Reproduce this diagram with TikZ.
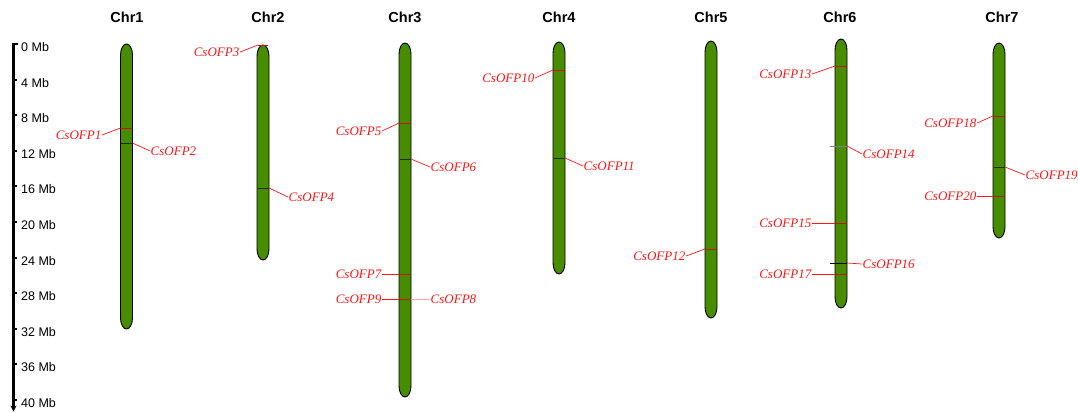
\documentclass[tikz,border=0pt]{standalone}
\usepackage{fontspec}
\setmainfont{Liberation Serif}
\newfontfamily\arialf{Liberation Sans}
\usetikzlibrary{arrows.meta}
\definecolor{chrgreen}{RGB}{72,140,0}
\definecolor{mkdark}{RGB}{30,50,0}
\definecolor{mkred}{RGB}{200,20,0}
\definecolor{lbred}{RGB}{255,20,20}
\definecolor{lbpink}{RGB}{255,170,170}
\tikzset{
  chromline/.style={draw=black, line width=0.9pt, fill=chrgreen},
  title/.style={font=\arialf\bfseries\fontsize{14.5}{16}\selectfont, inner sep=0pt},
  axlab/.style={font=\arialf\fontsize{12.5}{14}\selectfont, anchor=west, inner sep=0pt},
  gene/.style={font=\itshape\fontsize{13}{15}\selectfont, text=lbred, inner sep=0.5pt},
  conn/.style={draw=lbred, line width=0.7pt},
  mkr/.style={draw=mkred, line width=0.8pt},
  mkblk/.style={draw=mkdark, line width=0.8pt},
}
% #1 centre x, #2 top, #3 bottom, #4 name
\newcommand\chrshape[4]{%
  \draw[chromline] ({#1-6},{#2+11}) .. controls ({#1-6},{#2+5}) and ({#1-3.3},{#2}) .. ({#1},{#2})
    .. controls ({#1+3.3},{#2}) and ({#1+6},{#2+5}) .. ({#1+6},{#2+11})
    -- ({#1+6},{#3-11}) .. controls ({#1+6},{#3-5}) and ({#1+3.3},{#3}) .. ({#1},{#3})
    .. controls ({#1-3.3},{#3}) and ({#1-6},{#3-5}) .. ({#1-6},{#3-11}) -- cycle;
  \coordinate (#4) at ({#1},{(#2+#3)/2});}
\begin{document}
\begin{tikzpicture}[x=1pt,y=-1pt]
\useasboundingbox (0,0) rectangle (1078,412);
% axis
\coordinate (ax0) at (13.5,43);
\coordinate (ax1) at (13.5,411.5);
\draw[line width=2.4pt, -{Stealth[length=6pt,width=6pt]}] (ax0) -- (ax1);
\draw[line width=2pt] (12.3,44) -- (17.5,44);
\foreach \m in {4,8,...,40}{
  \draw[line width=2pt] (13.5,{44+8.9*\m}) -- (17,{44+8.9*\m});
}
\foreach \m in {0,4,...,40}{
  \node[axlab] (t\m) at (21,{47+8.9*\m}) {\m\ Mb};
}
% titles
\node[title] (h1) at (127,17) {Chr1};
\node[title] (h2) at (268,17) {Chr2};
\node[title] (h3) at (405,17) {Chr3};
\node[title] (h4) at (559,17) {Chr4};
\node[title] (h5) at (711,17) {Chr5};
\node[title] (h6) at (840,17) {Chr6};
\node[title] (h7) at (1002,17) {Chr7};
% chromosomes
\chrshape{126.5}{44}{329}{c1}
\chrshape{263}{45}{260}{c2}
\chrshape{405}{43}{397}{c3}
\chrshape{559}{42}{274}{c4}
\chrshape{711}{41}{318}{c5}
\chrshape{841}{39}{308}{c6}
\chrshape{999}{43}{238}{c7}
% markers
\draw[mkr] (121,128) -- (132,128);
\draw[mkblk] (121,143) -- (132,143);
\draw[mkr] (258,45.5) -- (268,45.5);
\draw[mkblk] (257.5,188) -- (268.5,188);
\draw[mkr] (399.5,123) -- (410.5,123);
\draw[mkblk] (399.5,159) -- (410.5,159);
\draw[mkr] (399.5,274) -- (410.5,274);
\draw[mkr] (399.5,299) -- (410.5,299);
\draw[mkr] (553.5,70) -- (564.5,70);
\draw[mkblk] (553.5,158) -- (564.5,158);
\draw[mkr] (705.5,249) -- (716.5,249);
\draw[mkr] (835.5,66) -- (846.5,66);
\draw[draw=gray, line width=0.8pt] (830,146) -- (846.5,146);
\draw[mkr] (835.5,223) -- (846.5,223);
\draw[draw=black, line width=0.8pt] (830,263) -- (846.5,263);
\draw[mkr] (835.5,274) -- (846.5,274);
\draw[mkr] (993.5,116) -- (1004.5,116);
\draw[mkblk] (993.5,167) -- (1004.5,167);
\draw[mkr] (993.5,196) -- (1004.5,196);
% gene labels
\node[gene, anchor=east] (g1) at (102,135) {CsOFP1};
\node[gene, anchor=west] (g2) at (150,151) {CsOFP2};
\node[gene, anchor=east] (g3) at (240,52) {CsOFP3};
\node[gene, anchor=west] (g4) at (288,197) {CsOFP4};
\node[gene, anchor=east] (g5) at (382,131) {CsOFP5};
\node[gene, anchor=west] (g6) at (430,167) {CsOFP6};
\node[gene, anchor=east] (g7) at (382,274) {CsOFP7};
\node[gene, anchor=west] (g8) at (430,299) {CsOFP8};
\node[gene, anchor=east] (g9) at (382,299) {CsOFP9};
\node[gene, anchor=east] (g10) at (535,78) {CsOFP10};
\node[gene, anchor=west] (g11) at (583,166) {CsOFP11};
\node[gene, anchor=east] (g12) at (686,256) {CsOFP12};
\node[gene, anchor=east] (g13) at (812,74) {CsOFP13};
\node[gene, anchor=west] (g14) at (862,154) {CsOFP14};
\node[gene, anchor=east] (g15) at (812,223) {CsOFP15};
\node[gene, anchor=west] (g16) at (862,264) {CsOFP16};
\node[gene, anchor=east] (g17) at (812,274) {CsOFP17};
\node[gene, anchor=east] (g18) at (977,123) {CsOFP18};
\node[gene, anchor=west] (g19) at (1025,175) {CsOFP19};
\node[gene, anchor=east] (g20) at (977,196) {CsOFP20};
% connector end points on chromosomes
\coordinate (p1) at (120.5,128);
\coordinate (p2) at (132.5,143);
\coordinate (p3) at (258,45);
\coordinate (p4) at (269,188);
\coordinate (p5) at (399,123);
\coordinate (p6) at (411,159);
\coordinate (p7) at (399,274);
\coordinate (p8) at (411,299);
\coordinate (p9) at (399,299);
\coordinate (p10) at (553,70);
\coordinate (p11) at (565,158);
\coordinate (p12) at (705,249);
\coordinate (p13) at (835,66);
\coordinate (p14) at (847,146);
\coordinate (p15) at (835,223);
\coordinate (p16) at (847,263);
\coordinate (p17) at (835,274);
\coordinate (p18) at (993,116);
\coordinate (p19) at (1005,167);
\coordinate (p20) at (993,196);
% connectors
\draw[conn] (g1.east) -- (p1);
\draw[conn] (g2.west) -- (p2);
\draw[conn] (g3.east) -- (p3);
\draw[conn] (g4.west) -- (p4);
\draw[conn] (g5.east) -- (p5);
\draw[conn] (g6.west) -- (p6);
\draw[conn] (g7.east) -- (p7);
\draw[conn, draw=lbpink] (g8.west) -- (p8);
\draw[conn] (g9.east) -- (p9);
\draw[conn] (g10.east) -- (p10);
\draw[conn] (g11.west) -- (p11);
\draw[conn] (g12.east) -- (p12);
\draw[conn] (g13.east) -- (p13);
\draw[conn] (g14.west) -- (p14);
\draw[conn] (g15.east) -- (p15);
\draw[conn] (g16.west) -- (p16);
\draw[conn] (g17.east) -- (p17);
\draw[conn] (g18.east) -- (p18);
\draw[conn] (g19.west) -- (p19);
\draw[conn] (g20.east) -- (p20);
\end{tikzpicture}
\end{document}
